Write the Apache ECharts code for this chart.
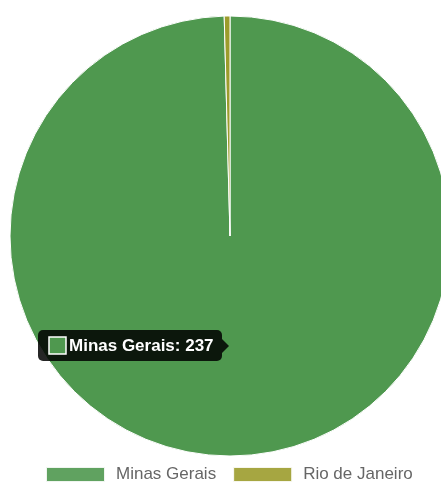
<!DOCTYPE html>
<html>
<head>
<meta charset="utf-8">
<script src="https://cdn.jsdelivr.net/npm/echarts@6/dist/echarts.min.js"></script>
<style>
  html, body { margin: 0; padding: 0; background: #fff; }
  #chart { width: 441px; height: 486px; }
</style>
</head>
<body>
<div id="chart"></div>
<script>
// dados do grafico
var states = ['Minas Gerais', 'Rio de Janeiro'];
var counts = [237, 1];
var colors = ['#4f984f', '#9c9c2c'];
var tipIndex = 0; // fatia com tooltip visivel

var chart = echarts.init(document.getElementById('chart'));

var pieData = states.map(function (name, i) {
    return { name: name, value: counts[i], itemStyle: { color: colors[i] } };
});

var tipText = states[tipIndex] + ': ' + counts[tipIndex];

chart.setOption({
    animation: false,
    legend: {
        left: 40,
        top: 461,
        icon: 'rect',
        itemWidth: 59,
        itemHeight: 15,
        itemGap: 16,
        textStyle: { fontFamily: 'Arial', fontSize: 17, color: '#666', padding: [0, 0, 0, 6] },
        data: states.map(function (name, i) {
            return { name: name, itemStyle: { color: colors[i], opacity: 0.9 } };
        })
    },
    series: [{
        type: 'pie',
        center: [230, 236],
        radius: 220,
        startAngle: 90,
        clockwise: true,
        label: { show: false },
        labelLine: { show: false },
        itemStyle: { borderColor: '#fff', borderWidth: 1 },
        emphasis: { disabled: true },
        data: pieData
    }],
    // tooltip estatico desenhado como no original
    graphic: [{
        type: 'group',
        left: 38,
        top: 330,
        z: 100,
        children: [
            { type: 'rect', z: 100, shape: { x: 0, y: 0, width: 184, height: 31, r: 5 }, style: { fill: 'rgba(0,0,0,0.85)' } },
            { type: 'polygon', z: 100, shape: { points: [[184, 9], [191, 16], [184, 23]] }, style: { fill: 'rgba(0,0,0,0.85)' } },
            { type: 'rect', z: 101, shape: { x: 11, y: 7, width: 17, height: 17 }, style: { fill: colors[tipIndex], stroke: '#fff', lineWidth: 1.5 } },
            { type: 'text', z: 101, x: 31, y: 16, style: { text: tipText, fill: '#fff', font: 'bold 17px Arial', verticalAlign: 'middle' } }
        ]
    }]
});
</script>
</body>
</html>
